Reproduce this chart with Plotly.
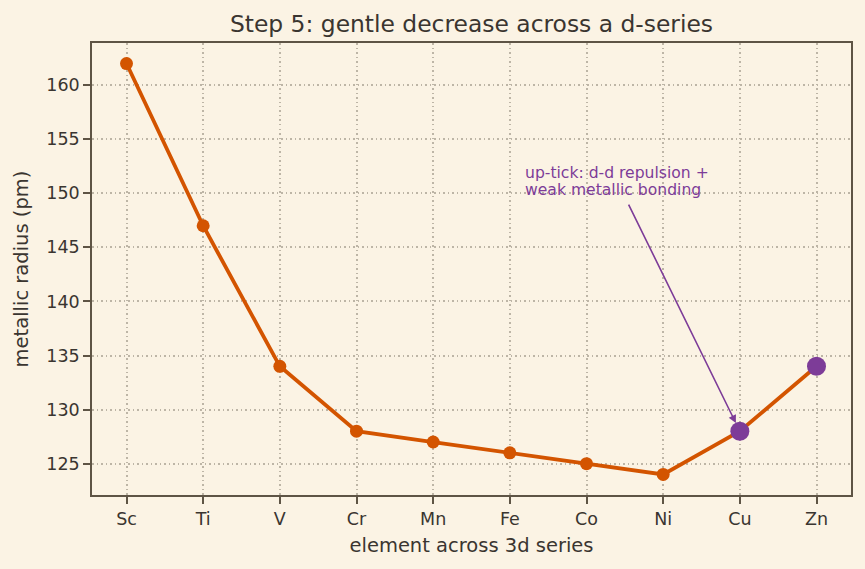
import plotly.graph_objects as go

elements = ["Sc", "Ti", "V", "Cr", "Mn", "Fe", "Co", "Ni", "Cu", "Zn"]
radius_pm = [162, 147, 134, 128, 127, 126, 125, 124, 128, 134]
highlight_elements = ["Cu", "Zn"]
highlight_radius = [128, 134]
note_lines = ["up-tick: d-d repulsion +", "weak metallic bonding"]
note_line_y = [151.9, 150.3]

x_idx = list(range(len(elements)))
hl_idx = [elements.index(e) for e in highlight_elements]

ORANGE = "#D35400"
PURPLE = "#7D3C98"
BG = "#FBF3E4"
TXT = "#3a3530"
FRAME = "#5e5445"

fig = go.Figure()
fig.add_trace(go.Scatter(x=x_idx, y=radius_pm, mode="lines+markers",
                         line=dict(color=ORANGE, width=3.8),
                         marker=dict(color=ORANGE, size=13), showlegend=False))
fig.add_trace(go.Scatter(x=hl_idx, y=highlight_radius, mode="markers",
                         marker=dict(color=PURPLE, size=19), showlegend=False))

fig.add_annotation(x=8, y=128, ax=6.54, ay=149.1, xref="x", yref="y",
                   axref="x", ayref="y", text="", showarrow=True,
                   arrowhead=2, arrowsize=1, arrowwidth=1.6, arrowcolor=PURPLE,
                   standoff=9)
for line, ly in zip(note_lines, note_line_y):
    fig.add_annotation(x=5.18, y=ly, xref="x", yref="y", xanchor="left", yanchor="middle",
                       text=line, showarrow=False, align="left", borderpad=0,
                       font=dict(family="DejaVu Sans", size=15.6, color=PURPLE))

fig.update_layout(
    width=865, height=569,
    paper_bgcolor=BG, plot_bgcolor=BG,
    margin=dict(l=92, r=14, t=43, b=74),
    font=dict(family="DejaVu Sans", size=17.5, color=TXT),
    title=dict(text="Step 5: gentle decrease across a d-series", x=0.5, xref="paper",
               xanchor="center", y=1 - 24 / 569, yanchor="middle",
               font=dict(size=23.4, color=TXT)),
)
axis_common = dict(showline=True, linecolor=FRAME, linewidth=1.6, mirror=True,
                   ticks="outside", ticklen=7, tickcolor=FRAME, tickwidth=1.6,
                   showgrid=True, gridcolor="#bdb5a6", griddash="1.5px,3px", gridwidth=1.5,
                   zeroline=False, tickfont=dict(size=17.5, color=TXT))
fig.update_xaxes(range=[-0.45, 9.45], tickvals=x_idx, ticktext=elements,
                 title=dict(text="element across 3d series", font=dict(size=19.5), standoff=11),
                 **axis_common)
fig.update_yaxes(range=[122.1, 163.9], tickvals=[125, 130, 135, 140, 145, 150, 155, 160],
                 title=dict(text="metallic radius (pm)", font=dict(size=19.5), standoff=12),
                 **axis_common)

fig.write_html("out.html")
